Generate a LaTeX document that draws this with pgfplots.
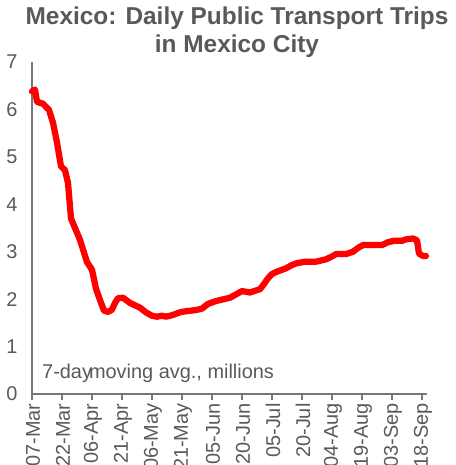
\documentclass[border=0pt]{standalone}
\usepackage{pgfplots}
\pgfplotsset{compat=1.18}
\usepackage{fontspec}
\setmainfont{Liberation Sans}
\definecolor{txtgray}{RGB}{89,89,89}
\definecolor{axgray}{RGB}{118,118,118}
\begin{document}
\begin{tikzpicture}[x=1bp,y=1bp]
\useasboundingbox (-32bp,-71bp) rectangle (424bp,394bp);
\begin{axis}[
  at={(0,0)}, anchor=south west,
  scale only axis, width=395bp, height=332bp,
  xmin=0, xmax=197.5, ymin=0, ymax=7,
  axis x line=bottom, axis y line=left,
  axis line style={-, axgray, line width=1.2pt},
  xtick={0,15,...,195},
  xticklabels={07-Mar,22-Mar,06-Apr,21-Apr,06-May,21-May,05-Jun,20-Jun,05-Jul,20-Jul,04-Aug,19-Aug,03-Sep,18-Sep},
  ytick={0,1,...,7},
  major tick length=6bp,
  tick style={axgray, line width=1.2pt},
  xtick pos=bottom, xtick align=outside,
  y tick style={draw=none},
  ticklabel style={font=\fontsize{20}{22}\selectfont, text=txtgray},
  /pgf/number format/assume math mode=true,
  xticklabel style={rotate=90, anchor=east, xshift=0bp, yshift=-1bp},
  yticklabel style={anchor=east, xshift=-8bp},
  clip=false,
]
\addplot[red, line width=6.3pt, line join=round, line cap=round] coordinates {
(0,6.38) (1.5,6.42) (2.5,6.16) (5.5,6.12) (8.5,5.99) (10.5,5.72) (12.5,5.30)
(14.5,4.80) (16.5,4.72) (18,4.45) (19.5,3.70) (21.5,3.50) (24,3.25) (27.5,2.78)
(30,2.62) (32,2.22) (34,1.98) (36,1.76) (38,1.73) (40,1.78) (41.5,1.92) (43,2.02)
(45.5,2.03) (49,1.92) (54,1.82) (57,1.72) (60,1.65) (62.5,1.63) (65,1.65) (67,1.63)
(70,1.66) (74.5,1.73) (78,1.75) (82,1.77) (85,1.80) (88,1.90) (92,1.96) (96,2.00)
(99,2.03) (102,2.10) (105,2.17) (109,2.14) (114,2.21) (116,2.32) (118,2.44)
(120,2.53) (122.5,2.58) (127,2.65) (130,2.72) (132.5,2.76) (137,2.79) (142,2.79)
(147,2.84) (150,2.90) (152,2.95) (157,2.95) (160.5,3.00) (163,3.08) (165.5,3.14)
(170.5,3.14) (175,3.14) (178,3.20) (181,3.23) (185,3.23) (187,3.26) (190.5,3.28)
(192.5,3.24) (193.5,2.96) (195.5,2.91) (197,2.91)
};
\end{axis}
\node[anchor=west, text=txtgray, font=\fontsize{20}{22}\selectfont, inner sep=0pt] at (10bp,21bp) {7-day\kern-0.15em moving avg., millions};
\node[align=center, text=txtgray, font=\fontsize{24.5}{28}\bfseries\selectfont, inner sep=0pt] at (205bp,362bp) {Mexico: Daily Public Transport Trips\\in Mexico City};
\end{tikzpicture}
\end{document}
